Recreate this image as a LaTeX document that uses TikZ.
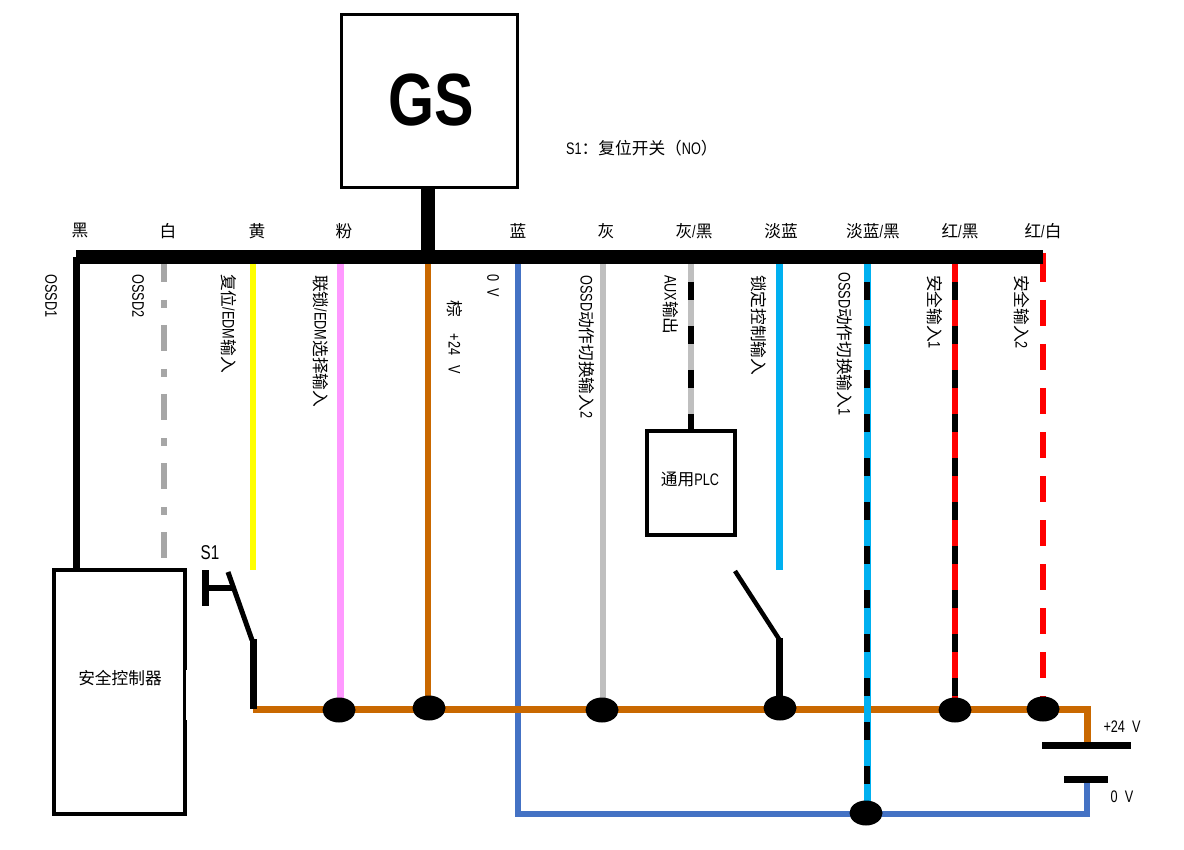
\documentclass[tikz,border=0pt]{standalone}
\usepackage{fontspec}
\setmainfont{Noto Sans CJK SC}
\newfontfamily\latn[FakeStretch=0.76]{Liberation Sans}
\newfontfamily\latb[FakeStretch=0.8]{Liberation Sans Bold}
\usetikzlibrary{shapes.geometric,backgrounds}
\definecolor{brownw}{HTML}{C96800}
\definecolor{bluew}{HTML}{4472C4}
\definecolor{skyw}{HTML}{00B0F0}
\definecolor{grayw}{HTML}{BFBFBF}
\definecolor{dgrayw}{HTML}{A6A6A6}
\definecolor{pinkw}{HTML}{FF99FF}
\definecolor{yelw}{HTML}{FFFF00}
\definecolor{redw}{HTML}{FF0000}
\newcommand{\lt}[1]{{\latn #1}}
\tikzset{
  x=1pt,y=-1pt,
  txt/.style={inner sep=0pt,font=\fontsize{16.7pt}{17pt}\selectfont,text=black},
  colname/.style={txt,anchor=center},
  vlabel/.style={txt,rotate=-90,anchor=west},
  box/.style={draw=black,fill=white,inner sep=0pt},
  dot/.style={ellipse,fill=black,inner sep=0pt,minimum width=33pt,minimum height=25pt},
  wire/.style={line width=6.5pt},
  overlay black/.style={line width=#1,draw=black,dash pattern=on 18pt off 26pt,dash phase=19pt},
  heavy/.style={draw=black,line width=7pt},
}
\begin{document}
\begin{tikzpicture}
\useasboundingbox (0,0) rectangle (1184,850);
% units
\node[box,line width=3.5pt,minimum width=176pt,minimum height=173pt] (gs) at (429.5,101) {};
\node[inner sep=0pt,font=\fontsize{74pt}{76pt}\selectfont\latb] (gst) at (431,100) {GS};
\node[box,line width=4pt,minimum width=131pt,minimum height=244pt] (ctrl) at (119.5,692) {};
\node[txt] (ctrlt) at (120,678) {安全控制器};
\node[box,line width=3.5pt,minimum width=88pt,minimum height=104pt] (plc) at (691,483) {};
\node[txt] (plct) at (690,479) {通用\lt{PLC}};
% junction dots
\node[dot] (d4) at (339,710) {};
\node[dot] (d5) at (429,708) {};
\node[dot] (d7) at (602,710) {};
\node[dot] (d9) at (780,708) {};
\node[dot] (d10) at (866,813) {};
\node[dot] (d11) at (955,710) {};
\node[dot] (d12) at (1043,709) {};
% bus points
\foreach \n/\x in {t1/76,t2/164,t3/253,t4/340,t5/428,t6/518,t7/603,t8/691,t9/779,t10/867,t11/955,t12/1043}
  \coordinate (\n) at (\x,257);
\coordinate (busL) at (76,257);
\coordinate (busR) at (1043,257);
\coordinate (stem) at (428,188);
\coordinate (t12b) at (1043,253);
\coordinate (y3e) at (253,570);
\coordinate (y9e) at (779,570);
\coordinate (o2e) at (164,558);
\coordinate (sw) at (253,709);
\coordinate (cor) at (1087,709);
\coordinate (pp) at (1087,744);
\coordinate (pn) at (1087,780);
\coordinate (blc) at (1087,814);
\coordinate (bl0) at (518,814);
% wires
\begin{scope}[on background layer]
\fill[white] (0,0) rectangle (1184,850);
\draw[line width=7pt,draw=black] (t1) -- (t1 |- ctrl.north);
\draw[wire,draw=dgrayw,line width=6.5pt,dash pattern=on 26pt off 18pt on 8pt off 17pt] (164,256) -- (o2e);
\draw[wire,draw=yelw] (t3) -- (y3e);
\draw[wire,draw=pinkw,line width=7pt] (t4) -- (t4 |- d4);
\draw[wire,draw=brownw] (t5) -- (t5 |- d5);
\draw[wire,draw=bluew] (t6) -- (bl0) -- (blc) -- (pn);
\draw[wire,draw=grayw] (t7) -- (t7 |- d7);
\draw[wire,draw=grayw] (t8) -- (t8 |- plc.north);
\draw[overlay black=6pt] (t8) -- (t8 |- plc.north);
\draw[wire,draw=skyw,line width=7pt] (t9) -- (y9e);
\draw[wire,draw=brownw,line width=7pt] (sw) -- (cor) -- (pp);
\draw[wire,draw=skyw,line width=7pt] (t10) -- (t10 |- d10);
\draw[overlay black=5.5pt] (t10) -- (t10 |- d10);
\draw[wire,draw=redw,line width=6pt] (t11) -- (t11 |- d11);
\draw[overlay black=6pt] (t11) -- (t11 |- d11);
\draw[wire,draw=redw,dash pattern=on 26pt off 18pt] (1043,256) -- (t12 |- d12);
\draw[wire,draw=redw] (t12b) -- (1043,257);
\end{scope}
% bus and stem
\draw[draw=black,line width=14pt] (busL) -- (busR);
\draw[draw=black,line width=14pt] (stem) -- (stem |- busL);
% notch on the controller
\fill[white] (185.5,670) rectangle (188,720);
% battery plates
\node[fill=black,inner sep=0pt,minimum width=89pt,minimum height=7pt] (bp) at (1086.5,745) {};
\node[fill=black,inner sep=0pt,minimum width=44pt,minimum height=7pt] (bn) at (1086,779.5) {};
% switch S1
\coordinate (s1a) at (228,572);
\coordinate (s1b) at (252,640);
\coordinate (s1m) at (234,587.5);
\coordinate (s1t) at (205.5,570);
\coordinate (s1u) at (205.5,606);
\draw[draw=black,line width=7pt] (s1t) -- (s1u);
\draw[draw=black,line width=6pt] (205.5,587.5) -- (s1m);
\draw[draw=black,line width=5pt] (s1a) -- (s1b);
\draw[heavy] (253,639) -- (sw);
% lock switch
\coordinate (s2a) at (735,571);
\coordinate (s2b) at (779,639);
\draw[draw=black,line width=4.5pt] (s2a) -- (s2b);
\draw[heavy] (779,638) -- (779,708);
% column names
\node[colname] (n1) at (80,231) {黑};
\node[colname] (n2) at (168,231) {白};
\node[colname] (n3) at (257,231) {黄};
\node[colname] (n4) at (344,231) {粉};
\node[colname] (n6) at (518,231) {蓝};
\node[colname] (n7) at (606,231) {灰};
\node[colname] (n8) at (694,231) {灰\lt{/}黑};
\node[colname] (n9) at (781,231) {淡蓝};
\node[colname] (n10) at (873,231) {淡蓝\lt{/}黑};
\node[colname] (n11) at (960,231) {红\lt{/}黑};
\node[colname] (n12) at (1043,231) {红\lt{/}白};
% vertical labels
\node[vlabel] (v1) at (51,274) {\lt{OSSD1}};
\node[vlabel] (v2) at (138,274) {\lt{OSSD2}};
\node[vlabel] (v3) at (229,274) {复位\lt{/EDM}输入};
\node[vlabel] (v4) at (321,275) {联锁\lt{/EDM}选择输入};
\node[vlabel] (v5) at (455,300) {棕\hspace{17pt}\lt{+24\hspace{10pt}V}};
\node[vlabel] (v6) at (493,274) {\lt{0\hspace{7pt}V}};
\node[vlabel] (v7) at (587,275) {\lt{OSSD}动作切换输入\lt{2}};
\node[vlabel] (v8) at (671,275) {\lt{AUX}输出};
\node[vlabel] (v9) at (759,275) {锁定控制输入};
\node[vlabel] (v10) at (845,272) {\lt{OSSD}动作切换输入\lt{1}};
\node[vlabel] (v11) at (935,275) {安全输入\lt{1}};
\node[vlabel] (v12) at (1022,275) {安全输入\lt{2}};
% free labels
\node[txt,anchor=west] (note) at (566,148) {\lt{S1}：复位开关（\lt{NO}）};
\node[inner sep=0pt,anchor=center,font=\fontsize{20pt}{22pt}\selectfont\latn] (s1l) at (210,553) {S1};
\node[txt,anchor=center] (vp) at (1122,727) {\lt{+24\hspace{7pt}V}};
\node[txt,anchor=center] (vn) at (1122,797) {\lt{0\hspace{7pt}V}};
\end{tikzpicture}
\end{document}
